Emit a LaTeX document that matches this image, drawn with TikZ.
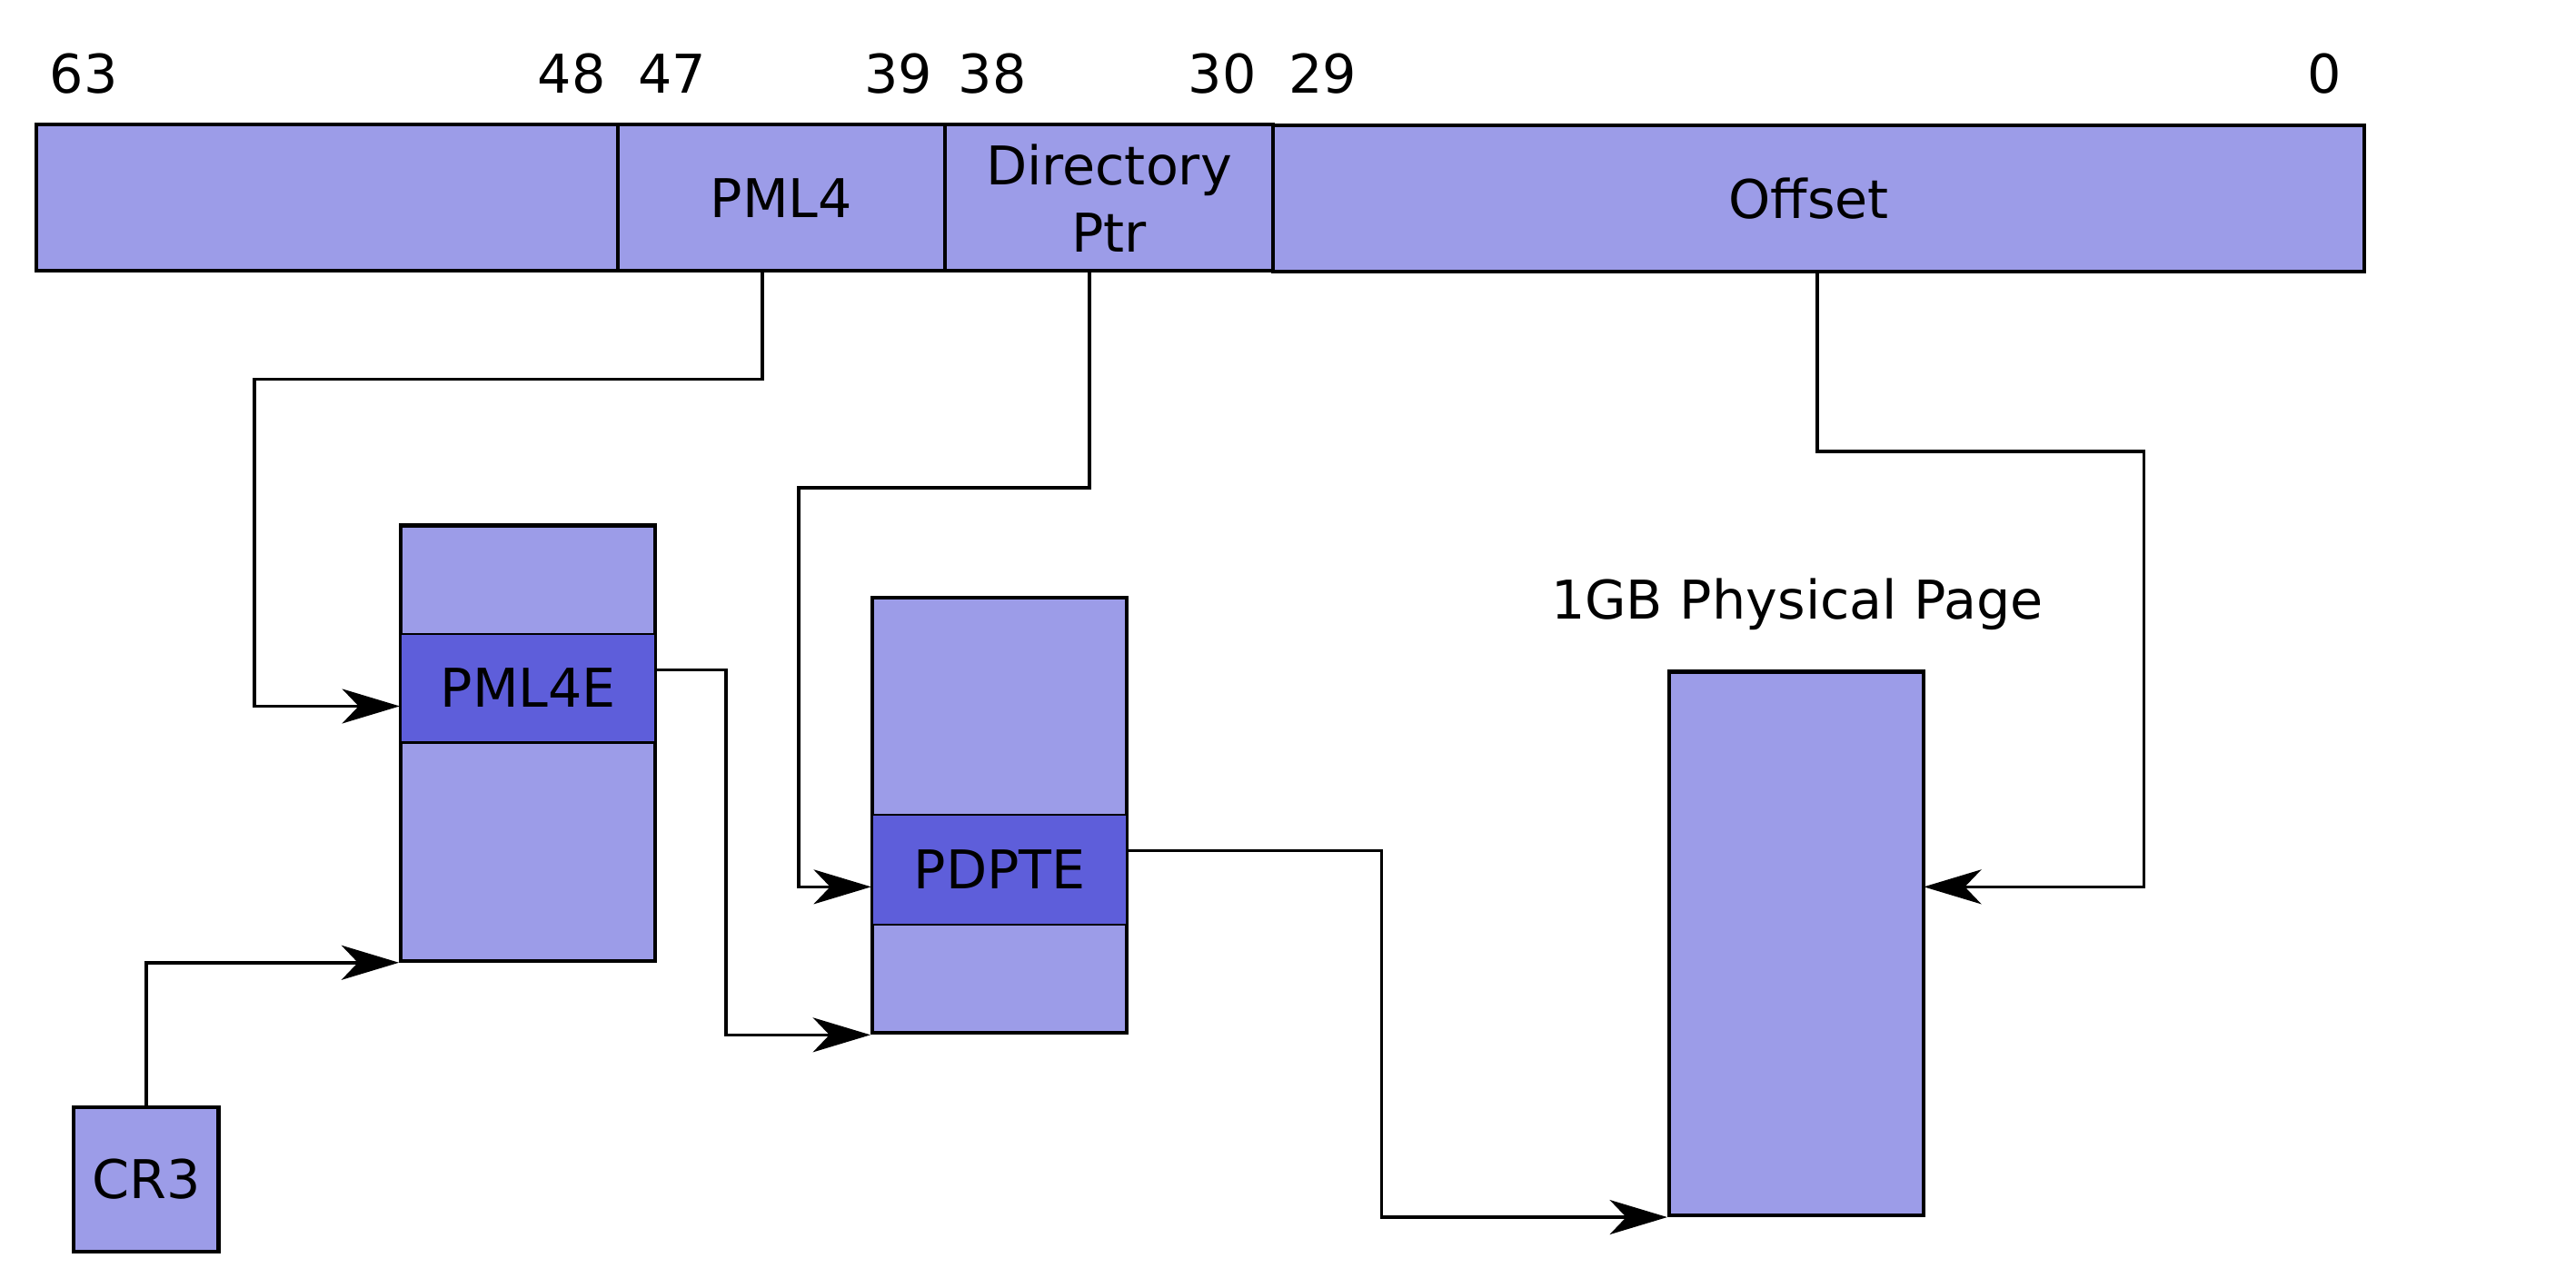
\documentclass[tikz,border=0pt]{standalone}
\usepackage{fontspec}
\setmainfont{DejaVu Sans}
\usetikzlibrary{arrows.meta}
\definecolor{lightfill}{RGB}{156,156,232}
\definecolor{darkfill}{RGB}{94,94,218}
\begin{document}
\begin{tikzpicture}[x=1pt,y=-1pt,
  every node/.style={font=\fontsize{32.5}{41}\selectfont, inner sep=0pt},
  box/.style={draw=black, line width=2.3pt, fill=lightfill, rectangle},
  entry/.style={draw=black, line width=1.4pt, fill=darkfill, rectangle},
  bitlbl/.style={anchor=center},
  conn/.style={draw=black, line width=2pt, -{Stealth[length=35pt,width=21pt,inset=10pt]}}]
\useasboundingbox (0,0) rectangle (1568,784);
% address fields
\node[box, minimum width=354pt, minimum height=89pt] (f1) at (199,120.5) {};
\node[box, minimum width=199pt, minimum height=89pt] (pml4) at (475.5,120.5) {PML4};
\node[box, minimum width=200pt, minimum height=89pt, align=center] (dptr) at (675,120.5) {Directory\\Ptr};
\node[box, minimum width=664pt, minimum height=89pt] (off) at (1107,121) {};
\node (offlbl) at (1101,121) {Offset};
% bit numbers
\node[bitlbl] (b63) at (51,45) {63};
\node[bitlbl] (b48) at (348,45) {48};
\node[bitlbl] (b47) at (409,45) {47};
\node[bitlbl] (b39) at (547,45) {39};
\node[bitlbl] (b38) at (604,45) {38};
\node[bitlbl] (b30) at (744,45) {30};
\node[bitlbl] (b29) at (805,45) {29};
\node[bitlbl] (b0) at (1415,45) {0};
% PML4 table
\node[box, minimum width=155pt, minimum height=265pt] (pml4t) at (321.5,452.5) {};
\node[entry, minimum width=155pt, minimum height=66pt] (pml4e) at (321.5,419) {PML4E};
% PDPT
\node[box, minimum width=155pt, minimum height=265pt] (pdpt) at (608.5,496.5) {};
\node[entry, minimum width=155pt, minimum height=67pt] (pdpte) at (608.5,529.5) {PDPTE};
% page
\node[box, minimum width=155pt, minimum height=331pt] (page) at (1093.5,574.5) {};
\node (pagelbl) at (1094,368) {1GB Physical Page};
% CR3
\node[box, minimum width=88pt, minimum height=88pt] (cr3) at (89,718) {CR3};
% connectors
\coordinate (c1) at (155,231);
\coordinate (c2) at (486,297);
\coordinate (c3) at (1305,275);
\coordinate (c4) at (442,408);
\coordinate (c5) at (841,518);
\coordinate (pin) at (1171,540);
\draw[conn] ([xshift=-11.5pt]pml4.south) |- (c1) |- ([yshift=-11pt]pml4e.west);
\draw[conn] ([xshift=-12pt]dptr.south) |- (c2) |- ([yshift=-10.5pt]pdpte.west);
\draw[conn] ([xshift=-1pt]off.south) |- (c3) |- (pin);
\draw[conn] (cr3.north) |- (pml4t.south west);
\draw[conn] ([yshift=11pt]pml4e.east) -- (c4) |- (pdpt.south west);
\draw[conn] ([yshift=11.5pt]pdpte.east) -- (c5) |- (page.south west);
\end{tikzpicture}
\end{document}
